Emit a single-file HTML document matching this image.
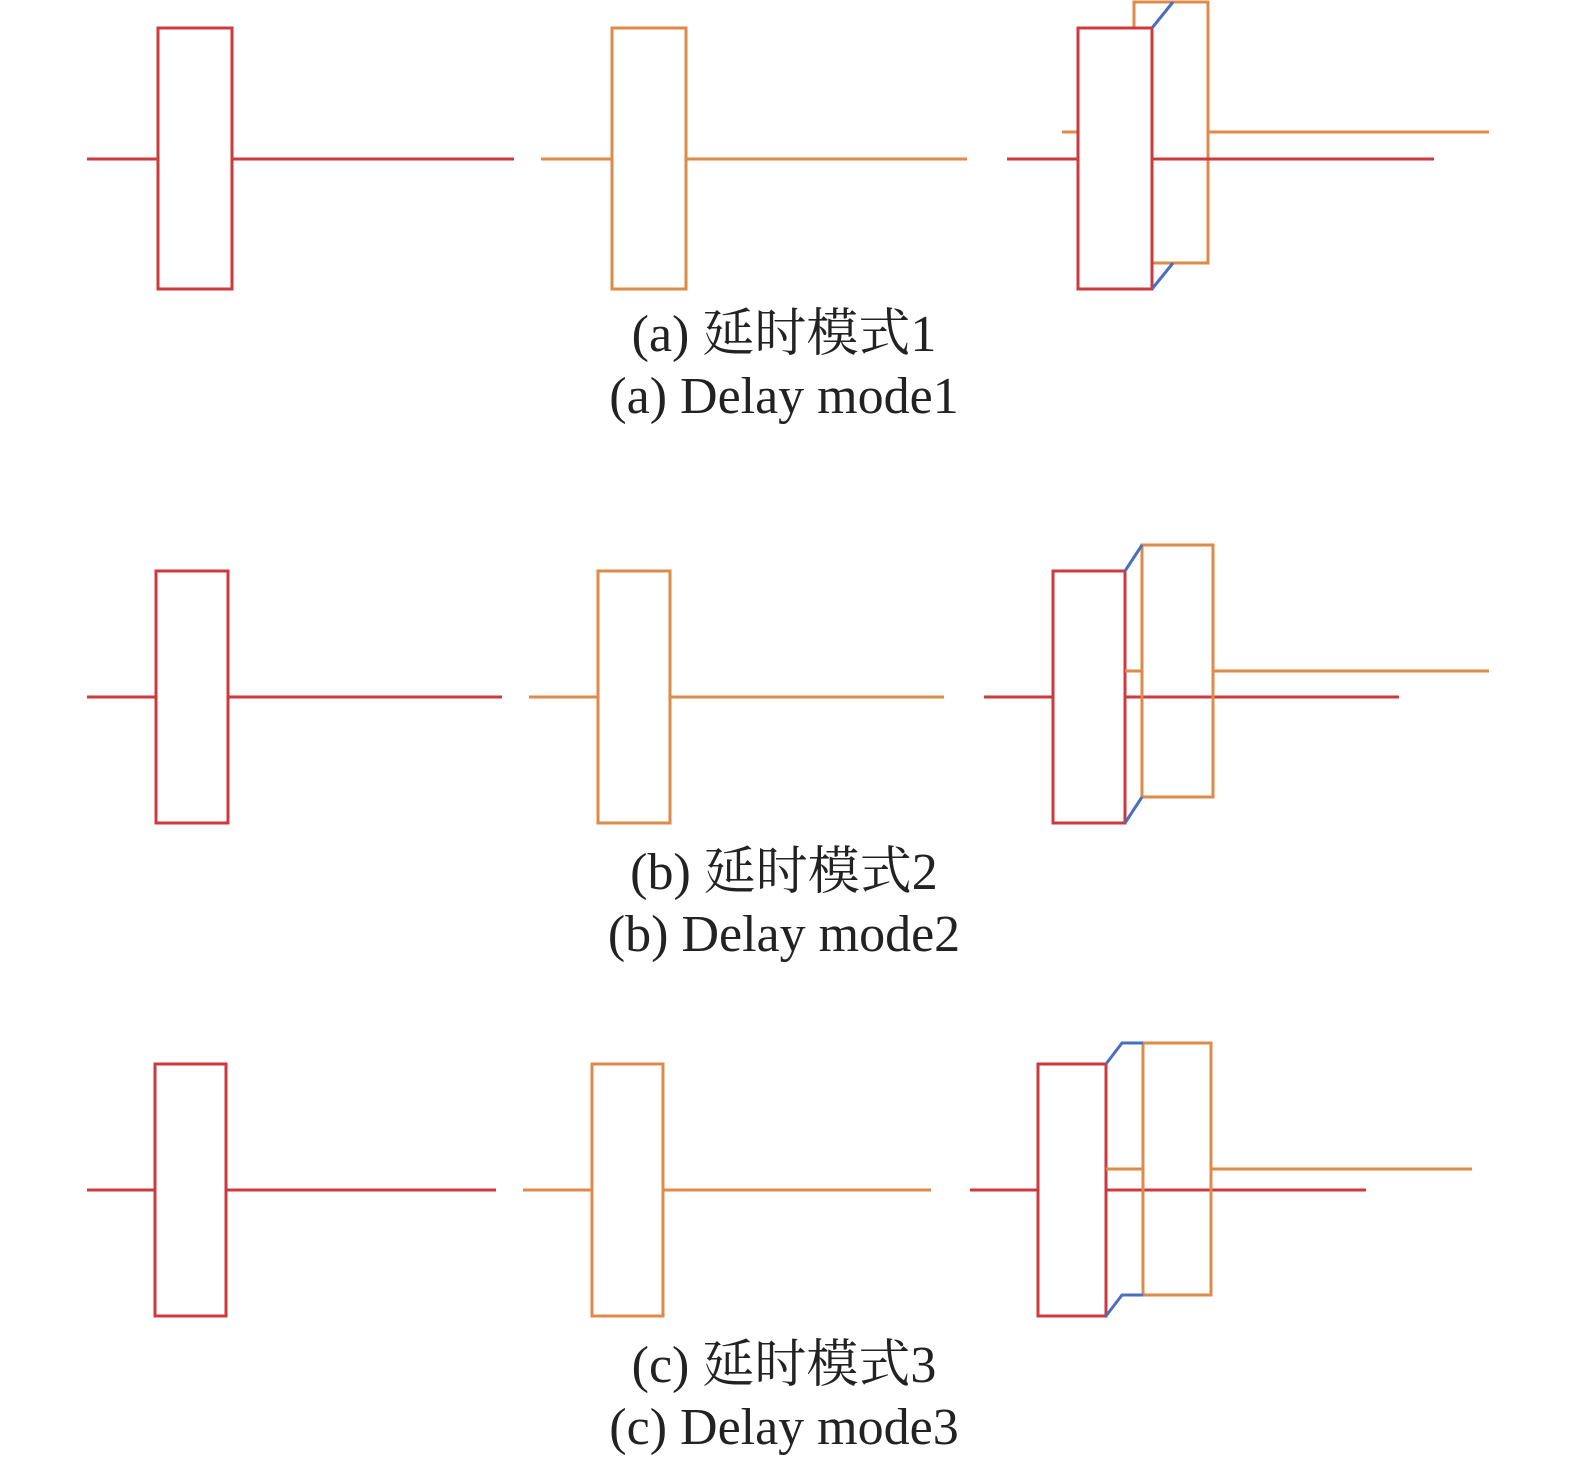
<!DOCTYPE html>
<html><head><meta charset="utf-8"><style>
html,body{margin:0;padding:0;background:#fff;}
svg{display:block;}
text{font-family:"Liberation Serif","Noto Serif CJK SC",serif;font-size:52px;fill:#222;}
</style></head><body>
<svg width="1575" height="1467" viewBox="0 0 1575 1467" xmlns="http://www.w3.org/2000/svg">
<g fill="none" stroke-width="3">
<!-- Row a -->
<line x1="87" y1="159" x2="514" y2="159" stroke="#cc3a3d"/>
<rect x="158" y="28" width="74" height="261" fill="#fff" stroke="#cc3a3d"/>
<line x1="541" y1="159" x2="967" y2="159" stroke="#de8a48"/>
<rect x="612" y="28" width="74" height="261" fill="#fff" stroke="#de8a48"/>
<rect x="1134" y="2" width="74" height="261" stroke="#de8a48"/>
<line x1="1062" y1="132" x2="1078" y2="132" stroke="#de8a48"/>
<line x1="1208" y1="132" x2="1489" y2="132" stroke="#de8a48"/>
<rect x="1078" y="28" width="74" height="261" fill="#fff" stroke="#cc3a3d"/>
<line x1="1007" y1="159" x2="1078" y2="159" stroke="#cc3a3d"/>
<line x1="1152" y1="159" x2="1434" y2="159" stroke="#cc3a3d"/>
<line x1="1152" y1="28" x2="1173" y2="2" stroke="#4a6fbf"/>
<line x1="1152" y1="289" x2="1173" y2="263" stroke="#4a6fbf"/>
<!-- Row b -->
<line x1="87" y1="697" x2="502" y2="697" stroke="#cc3a3d"/>
<rect x="156" y="571" width="72" height="252" fill="#fff" stroke="#cc3a3d"/>
<line x1="529" y1="697" x2="944" y2="697" stroke="#de8a48"/>
<rect x="598" y="571" width="72" height="252" fill="#fff" stroke="#de8a48"/>
<rect x="1053" y="571" width="72" height="252" fill="#fff" stroke="#cc3a3d"/>
<line x1="984" y1="697" x2="1053" y2="697" stroke="#cc3a3d"/>
<line x1="1125" y1="697" x2="1399" y2="697" stroke="#cc3a3d"/>
<line x1="1125" y1="671" x2="1142" y2="671" stroke="#de8a48"/>
<line x1="1213" y1="671" x2="1489" y2="671" stroke="#de8a48"/>
<rect x="1142" y="545" width="71" height="252" stroke="#de8a48"/>
<polyline points="1125,571 1142,545" stroke="#4a6fbf"/>
<polyline points="1125,823 1142,797" stroke="#4a6fbf"/>
<!-- Row c -->
<line x1="87" y1="1190" x2="496" y2="1190" stroke="#cc3a3d"/>
<rect x="155" y="1064" width="71" height="252" fill="#fff" stroke="#cc3a3d"/>
<line x1="523" y1="1190" x2="931" y2="1190" stroke="#de8a48"/>
<rect x="592" y="1064" width="71" height="252" fill="#fff" stroke="#de8a48"/>
<rect x="1038" y="1064" width="68" height="252" fill="#fff" stroke="#cc3a3d"/>
<line x1="970" y1="1190" x2="1038" y2="1190" stroke="#cc3a3d"/>
<line x1="1106" y1="1190" x2="1366" y2="1190" stroke="#cc3a3d"/>
<line x1="1106" y1="1169" x2="1143" y2="1169" stroke="#de8a48"/>
<line x1="1211" y1="1169" x2="1472" y2="1169" stroke="#de8a48"/>
<rect x="1143" y="1043" width="68" height="252" stroke="#de8a48"/>
<polyline points="1106,1064 1122,1043 1143,1043" stroke="#4a6fbf"/>
<polyline points="1106,1316 1122,1295 1143,1295" stroke="#4a6fbf"/>
</g>
<g text-anchor="middle">
<text x="784" y="351">(a) 延时模式1</text>
<text x="784" y="413">(a) Delay mode1</text>
<text x="784" y="889">(b) 延时模式2</text>
<text x="784" y="951">(b) Delay mode2</text>
<text x="784" y="1382">(c) 延时模式3</text>
<text x="784" y="1444">(c) Delay mode3</text>
</g>
</svg>
</body></html>
